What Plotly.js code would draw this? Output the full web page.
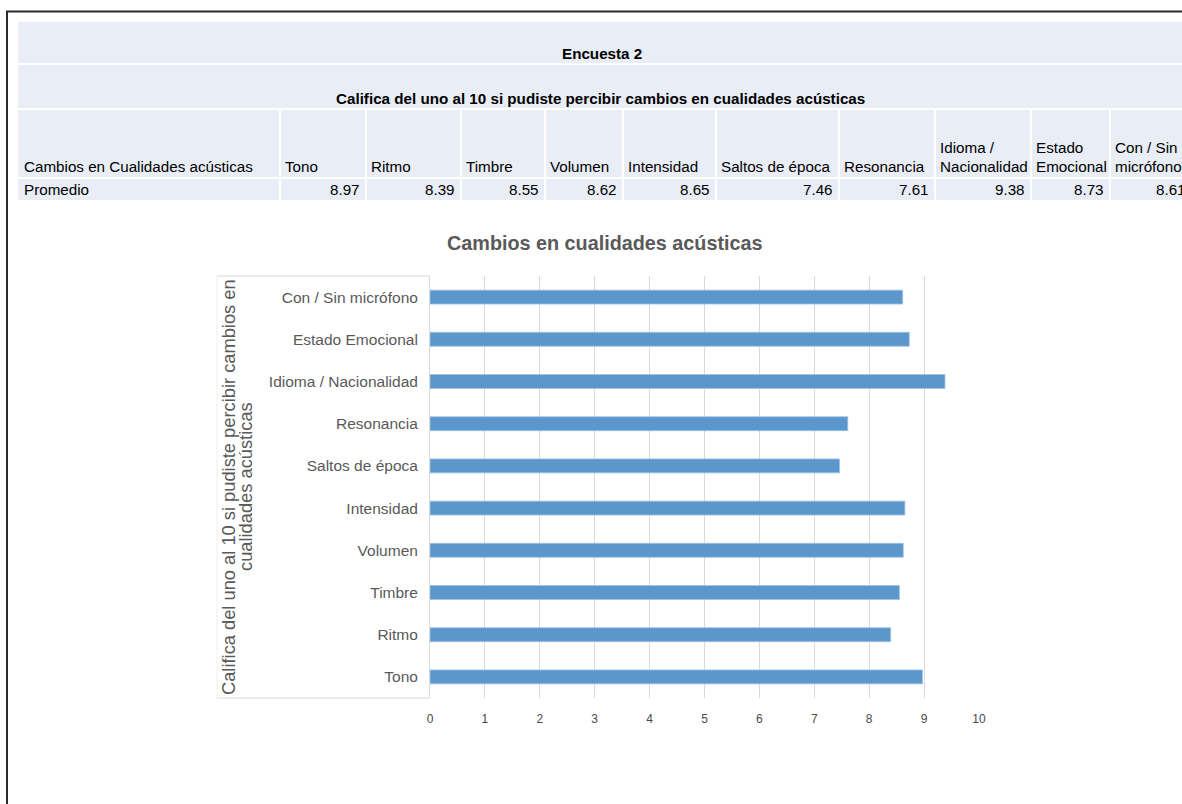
<!DOCTYPE html>
<html>
<head>
<meta charset="utf-8">
<script src="https://cdn.plot.ly/plotly-3.0.1.min.js"></script>
<style>
  html, body { margin: 0; padding: 0; background: #ffffff; }
  #chart { width: 1182px; height: 804px; }
</style>
</head>
<body>
<div id="chart"></div>
<script>
// Survey 2: average rating (1-10) of perceived changes in acoustic qualities
const categories = ["Tono", "Ritmo", "Timbre", "Volumen", "Intensidad", "Saltos de época",
                    "Resonancia", "Idioma / Nacionalidad", "Estado Emocional", "Con / Sin micrófono"];
const promedio = [8.97, 8.39, 8.55, 8.62, 8.65, 7.46, 7.61, 9.38, 8.73, 8.61];
const tableHeaders = ["Tono", "Ritmo", "Timbre", "Volumen", "Intensidad", "Saltos de época",
                      "Resonancia", "Idioma /<br>Nacionalidad", "Estado<br>Emocional", "Con / Sin<br>micrófono"];
const tableTitle = "Encuesta 2";
const tableQuestion = "Califica del uno al 10 si pudiste percibir cambios en cualidades acústicas";
const firstColHeader = "Cambios en Cualidades acústicas";
const rowLabel = "Promedio";
const chartTitle = "Cambios en cualidades acústicas";
const axisTitleLines = ["Califica del uno al 10 si pudiste percibir cambios en", "cualidades acústicas"];
const xTicks = [0, 1, 2, 3, 4, 5, 6, 7, 8, 9, 10];

// page geometry helpers (pixels -> paper fractions)
const W = 1182, H = 804;
const X = p => p / W;
const Y = p => 1 - p / H;

const SANS = "'Liberation Sans', Arial, sans-serif";
const GRAY = "#595959";
const CELL = "#e9edf6";

// spreadsheet-style table above the chart
const colEdges = [18, 280, 366, 461, 545, 623, 716, 839, 935, 1031, 1110, 1192];
const shapes = [];
const annotations = [];

function cell(x0, x1, y0, y1) {
  shapes.push({type: "rect", xref: "paper", yref: "paper",
    x0: X(x0), x1: X(x1), y0: Y(y1), y1: Y(y0),
    fillcolor: CELL, line: {width: 0}, layer: "below"});
}
function text(str, x, y, opts) {
  annotations.push(Object.assign({
    xref: "paper", yref: "paper", x: X(x), y: Y(y), text: str, showarrow: false,
    xanchor: "left", yanchor: "middle",
    font: {family: SANS, size: 15.2, color: "#000000"}
  }, opts || {}));
}

// outer frame
shapes.push({type: "line", xref: "paper", yref: "paper", x0: X(6), x1: X(1190), y0: Y(11.5), y1: Y(11.5),
  line: {color: "#2b2b2b", width: 2}});
shapes.push({type: "line", xref: "paper", yref: "paper", x0: X(7), x1: X(7), y0: Y(11), y1: Y(810),
  line: {color: "#2b2b2b", width: 2}});

// merged title rows
cell(18, 1192, 22, 63);
cell(18, 1192, 65, 108);
text("<b>" + tableTitle + "</b>", 602, 53, {xanchor: "center"});
text("<b>" + tableQuestion + "</b>", 601, 99, {xanchor: "center"});

// header row + value row
for (let c = 0; c < colEdges.length - 1; c++) {
  const l = colEdges[c] + (c === 0 ? 0 : 1), r = colEdges[c + 1] - 1;
  cell(l, r, 110, 177);
  cell(l, r, 179, 200);
}
text(firstColHeader, 22, 166);
text(rowLabel, 22, 190);
tableHeaders.forEach((h, i) => {
  const lines = h.split("<br>");
  const left = colEdges[i + 1] + 3;
  lines.forEach((ln, k) => {
    text(ln, left, 166 - (lines.length - 1 - k) * 18);
  });
  text(promedio[i].toFixed(2), colEdges[i + 2] - 4, 190, {xanchor: "right"});
});

// chart title
text("<b>" + chartTitle + "</b>", 605, 243, {xanchor: "center",
  font: {family: SANS, size: 19.8, color: GRAY}});

// rotated axis title, two lines
axisTitleLines.forEach((ln, k) => {
  text(ln, 228 + k * 17, 487, {xanchor: "center", textangle: -90,
    font: {family: SANS, size: 18.3, color: GRAY}});
});

// light frame around the category label area
const frameColor = "#e6e6e6";
shapes.push({type: "line", xref: "paper", yref: "paper", x0: X(217), x1: X(430), y0: Y(276), y1: Y(276), line: {color: frameColor, width: 1.5}});
shapes.push({type: "line", xref: "paper", yref: "paper", x0: X(217), x1: X(430), y0: Y(698), y1: Y(698), line: {color: frameColor, width: 1.5}});
shapes.push({type: "line", xref: "paper", yref: "paper", x0: X(217), x1: X(217), y0: Y(698), y1: Y(276), line: {color: "#f0f0f0", width: 1}});

const trace = {
  type: "bar",
  orientation: "h",
  y: categories,
  x: promedio,
  marker: {color: "#5b97cb", line: {color: "#9fc0e4", width: 0.8}},
  hoverinfo: "x+y"
};

const layout = {
  width: W, height: H,
  margin: {l: 0, r: 0, t: 0, b: 0},
  paper_bgcolor: "#ffffff",
  plot_bgcolor: "#ffffff",
  showlegend: false,
  bargap: 0.67,
  xaxis: {
    domain: [X(430), X(979)],
    range: [0, 10],
    tickvals: xTicks,
    showgrid: true, gridcolor: "#d9d9d9", gridwidth: 1,
    zeroline: false, showline: false,
    ticks: "", ticklabelstandoff: 12,
    tickfont: {family: SANS, size: 12, color: "#4a4a4a"},
    fixedrange: true
  },
  yaxis: {
    domain: [Y(698), Y(276)],
    type: "category",
    categoryorder: "array", categoryarray: categories,
    range: [-0.5, categories.length - 0.5],
    showgrid: false, zeroline: false,
    showline: true, linecolor: "#d9d9d9", linewidth: 1,
    ticks: "", ticklabelstandoff: 8,
    tickfont: {family: SANS, size: 15.5, color: GRAY},
    fixedrange: true
  },
  shapes: shapes,
  annotations: annotations
};

Plotly.newPlot("chart", [trace], layout, {displayModeBar: false, staticPlot: true});
</script>
</body>
</html>
